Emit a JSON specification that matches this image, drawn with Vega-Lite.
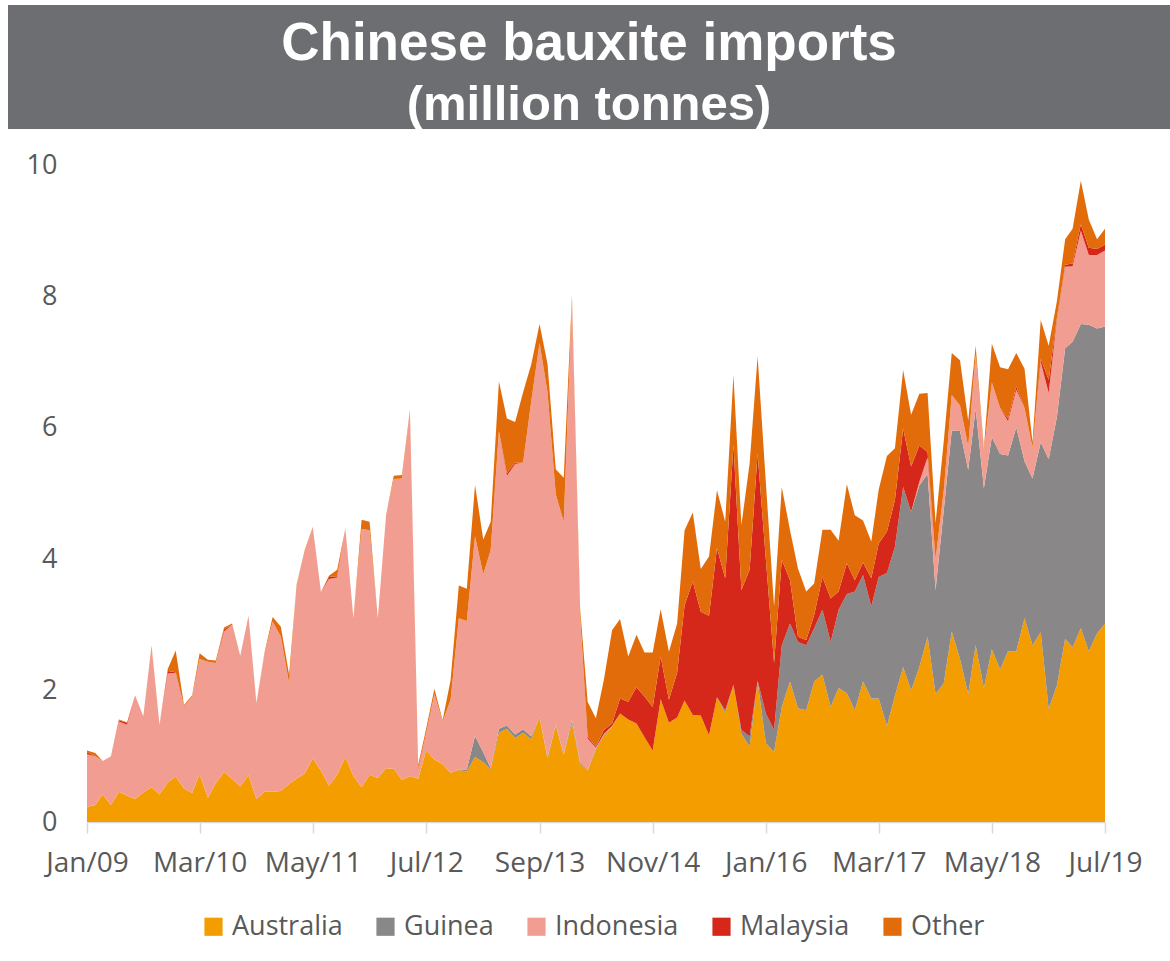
{
"$schema": "https://vega.github.io/schema/vega-lite/v6.json",
"padding": {"left": 8, "top": 5, "right": 0, "bottom": 15},
"background": "white",
"spacing": 36,
"bounds": "flush",
"config": {"view": {"stroke": null}, "font": "Open Sans"},
"vconcat": [
{
"width": 1162, "height": 124,
"view": {"fill": "#6d6e71", "stroke": null},
"data": {"values": [{"line": "a", "text": "Chinese bauxite imports"}, {"line": "b", "text": "(million tonnes)"}]},
"layer": [
{"transform": [{"filter": "datum.line == 'a'"}],
 "mark": {"type": "text", "font": "Liberation Sans", "fontWeight": "bold", "fontSize": 53, "color": "white", "baseline": "alphabetic", "dy": 22},
 "encoding": {"y": {"field": "line", "type": "ordinal", "axis": null, "scale": {"type": "point", "domain": ["a", "b"], "padding": 0.569}}, "text": {"field": "text"}}},
{"transform": [{"filter": "datum.line == 'b'"}],
 "mark": {"type": "text", "font": "Liberation Sans", "fontWeight": "bold", "fontSize": 49, "color": "white", "baseline": "alphabetic", "dy": 24},
 "encoding": {"y": {"field": "line", "type": "ordinal", "axis": null, "scale": {"type": "point", "domain": ["a", "b"], "padding": 0.569}}, "text": {"field": "text"}}}
]
},
{
"width": 1162, "height": 657,
"data": {"values": [
{"d":"2009-01-01","Australia":0.23,"Guinea":0,"Indonesia":0.80,"Malaysia":0.03,"Other":0.03},
{"d":"2009-02-01","Australia":0.26,"Guinea":0,"Indonesia":0.74,"Malaysia":0,"Other":0.05},
{"d":"2009-03-01","Australia":0.42,"Guinea":0,"Indonesia":0.51,"Malaysia":0,"Other":0},
{"d":"2009-04-01","Australia":0.26,"Guinea":0,"Indonesia":0.74,"Malaysia":0,"Other":0},
{"d":"2009-05-01","Australia":0.46,"Guinea":0,"Indonesia":1.07,"Malaysia":0.02,"Other":0.01},
{"d":"2009-06-01","Australia":0.40,"Guinea":0,"Indonesia":1.08,"Malaysia":0.03,"Other":0.01},
{"d":"2009-07-01","Australia":0.35,"Guinea":0,"Indonesia":1.58,"Malaysia":0,"Other":0},
{"d":"2009-08-01","Australia":0.45,"Guinea":0,"Indonesia":1.16,"Malaysia":0,"Other":0},
{"d":"2009-09-01","Australia":0.53,"Guinea":0,"Indonesia":2.16,"Malaysia":0,"Other":0},
{"d":"2009-10-01","Australia":0.42,"Guinea":0,"Indonesia":1.06,"Malaysia":0,"Other":0},
{"d":"2009-11-01","Australia":0.60,"Guinea":0,"Indonesia":1.66,"Malaysia":0.04,"Other":0.03},
{"d":"2009-12-01","Australia":0.69,"Guinea":0,"Indonesia":1.58,"Malaysia":0.01,"Other":0.33},
{"d":"2010-01-01","Australia":0.51,"Guinea":0,"Indonesia":1.25,"Malaysia":0,"Other":0.02},
{"d":"2010-02-01","Australia":0.44,"Guinea":0,"Indonesia":1.47,"Malaysia":0,"Other":0.02},
{"d":"2010-03-01","Australia":0.73,"Guinea":0,"Indonesia":1.75,"Malaysia":0,"Other":0.09},
{"d":"2010-04-01","Australia":0.37,"Guinea":0,"Indonesia":2.07,"Malaysia":0,"Other":0.03},
{"d":"2010-05-01","Australia":0.59,"Guinea":0,"Indonesia":1.83,"Malaysia":0,"Other":0.04},
{"d":"2010-06-01","Australia":0.76,"Guinea":0,"Indonesia":2.14,"Malaysia":0.03,"Other":0.03},
{"d":"2010-07-01","Australia":0.66,"Guinea":0,"Indonesia":2.34,"Malaysia":0,"Other":0.02},
{"d":"2010-08-01","Australia":0.54,"Guinea":0,"Indonesia":1.99,"Malaysia":0,"Other":0},
{"d":"2010-09-01","Australia":0.71,"Guinea":0,"Indonesia":2.43,"Malaysia":0,"Other":0},
{"d":"2010-10-01","Australia":0.35,"Guinea":0,"Indonesia":1.45,"Malaysia":0,"Other":0.01},
{"d":"2010-11-01","Australia":0.46,"Guinea":0,"Indonesia":2.11,"Malaysia":0,"Other":0.02},
{"d":"2010-12-01","Australia":0.46,"Guinea":0,"Indonesia":2.59,"Malaysia":0,"Other":0.07},
{"d":"2011-01-01","Australia":0.47,"Guinea":0,"Indonesia":2.35,"Malaysia":0,"Other":0.15},
{"d":"2011-02-01","Australia":0.58,"Guinea":0,"Indonesia":1.53,"Malaysia":0,"Other":0.13},
{"d":"2011-03-01","Australia":0.66,"Guinea":0,"Indonesia":2.94,"Malaysia":0,"Other":0.01},
{"d":"2011-04-01","Australia":0.74,"Guinea":0,"Indonesia":3.38,"Malaysia":0.01,"Other":0.01},
{"d":"2011-05-01","Australia":0.97,"Guinea":0,"Indonesia":3.51,"Malaysia":0,"Other":0.01},
{"d":"2011-06-01","Australia":0.78,"Guinea":0,"Indonesia":2.72,"Malaysia":0,"Other":0},
{"d":"2011-07-01","Australia":0.55,"Guinea":0,"Indonesia":3.15,"Malaysia":0.03,"Other":0.02},
{"d":"2011-08-01","Australia":0.72,"Guinea":0,"Indonesia":3.00,"Malaysia":0.02,"Other":0.10},
{"d":"2011-09-01","Australia":0.99,"Guinea":0,"Indonesia":3.48,"Malaysia":0,"Other":0},
{"d":"2011-10-01","Australia":0.70,"Guinea":0,"Indonesia":2.40,"Malaysia":0,"Other":0},
{"d":"2011-11-01","Australia":0.53,"Guinea":0,"Indonesia":3.93,"Malaysia":0,"Other":0.14},
{"d":"2011-12-01","Australia":0.72,"Guinea":0,"Indonesia":3.72,"Malaysia":0,"Other":0.13},
{"d":"2012-01-01","Australia":0.67,"Guinea":0,"Indonesia":2.43,"Malaysia":0,"Other":0},
{"d":"2012-02-01","Australia":0.82,"Guinea":0,"Indonesia":3.85,"Malaysia":0,"Other":0},
{"d":"2012-03-01","Australia":0.81,"Guinea":0,"Indonesia":4.41,"Malaysia":0,"Other":0.05},
{"d":"2012-04-01","Australia":0.64,"Guinea":0,"Indonesia":4.59,"Malaysia":0,"Other":0.05},
{"d":"2012-05-01","Australia":0.70,"Guinea":0,"Indonesia":5.56,"Malaysia":0,"Other":0.02},
{"d":"2012-06-01","Australia":0.66,"Guinea":0,"Indonesia":0.14,"Malaysia":0.02,"Other":0.05},
{"d":"2012-07-01","Australia":1.09,"Guinea":0,"Indonesia":0.26,"Malaysia":0,"Other":0.07},
{"d":"2012-08-01","Australia":0.95,"Guinea":0,"Indonesia":1.00,"Malaysia":0,"Other":0.08},
{"d":"2012-09-01","Australia":0.88,"Guinea":0,"Indonesia":0.65,"Malaysia":0,"Other":0.02},
{"d":"2012-10-01","Australia":0.75,"Guinea":0,"Indonesia":1.11,"Malaysia":0,"Other":0.30},
{"d":"2012-11-01","Australia":0.79,"Guinea":0.01,"Indonesia":2.30,"Malaysia":0,"Other":0.50},
{"d":"2012-12-01","Australia":0.77,"Guinea":0.03,"Indonesia":2.26,"Malaysia":0,"Other":0.49},
{"d":"2013-01-01","Australia":0.99,"Guinea":0.32,"Indonesia":3.04,"Malaysia":0,"Other":0.78},
{"d":"2013-02-01","Australia":0.91,"Guinea":0.15,"Indonesia":2.71,"Malaysia":0,"Other":0.53},
{"d":"2013-03-01","Australia":0.80,"Guinea":0.02,"Indonesia":3.32,"Malaysia":0,"Other":0.43},
{"d":"2013-04-01","Australia":1.36,"Guinea":0.06,"Indonesia":4.53,"Malaysia":0,"Other":0.76},
{"d":"2013-05-01","Australia":1.42,"Guinea":0.05,"Indonesia":3.80,"Malaysia":0.04,"Other":0.83},
{"d":"2013-06-01","Australia":1.28,"Guinea":0.05,"Indonesia":4.12,"Malaysia":0.02,"Other":0.62},
{"d":"2013-07-01","Australia":1.36,"Guinea":0.05,"Indonesia":4.06,"Malaysia":0,"Other":1.07},
{"d":"2013-08-01","Australia":1.26,"Guinea":0.04,"Indonesia":5.11,"Malaysia":0,"Other":0.56},
{"d":"2013-09-01","Australia":1.60,"Guinea":0,"Indonesia":5.69,"Malaysia":0,"Other":0.29},
{"d":"2013-10-01","Australia":0.96,"Guinea":0.02,"Indonesia":5.56,"Malaysia":0,"Other":0.43},
{"d":"2013-11-01","Australia":1.47,"Guinea":0.01,"Indonesia":3.51,"Malaysia":0,"Other":0.38},
{"d":"2013-12-01","Australia":1.02,"Guinea":0.01,"Indonesia":3.54,"Malaysia":0,"Other":0.67},
{"d":"2014-01-01","Australia":1.50,"Guinea":0.05,"Indonesia":6.38,"Malaysia":0,"Other":0.08},
{"d":"2014-02-01","Australia":0.88,"Guinea":0.02,"Indonesia":2.22,"Malaysia":0,"Other":0.11},
{"d":"2014-03-01","Australia":0.78,"Guinea":0.01,"Indonesia":0.48,"Malaysia":0.03,"Other":0.53},
{"d":"2014-04-01","Australia":1.10,"Guinea":0.02,"Indonesia":0.01,"Malaysia":0.02,"Other":0.43},
{"d":"2014-05-01","Australia":1.32,"Guinea":0.01,"Indonesia":0.01,"Malaysia":0.06,"Other":0.76},
{"d":"2014-06-01","Australia":1.45,"Guinea":0,"Indonesia":0.01,"Malaysia":0.04,"Other":1.42},
{"d":"2014-07-01","Australia":1.65,"Guinea":0,"Indonesia":0,"Malaysia":0.23,"Other":1.21},
{"d":"2014-08-01","Australia":1.56,"Guinea":0,"Indonesia":0,"Malaysia":0.27,"Other":0.69},
{"d":"2014-09-01","Australia":1.50,"Guinea":0,"Indonesia":0,"Malaysia":0.55,"Other":0.80},
{"d":"2014-10-01","Australia":1.29,"Guinea":0,"Indonesia":0,"Malaysia":0.62,"Other":0.67},
{"d":"2014-11-01","Australia":1.09,"Guinea":0,"Indonesia":0,"Malaysia":0.66,"Other":0.83},
{"d":"2014-12-01","Australia":1.87,"Guinea":0,"Indonesia":0,"Malaysia":0.65,"Other":0.72},
{"d":"2015-01-01","Australia":1.51,"Guinea":0,"Indonesia":0,"Malaysia":0.35,"Other":0.73},
{"d":"2015-02-01","Australia":1.59,"Guinea":0,"Indonesia":0,"Malaysia":0.68,"Other":0.75},
{"d":"2015-03-01","Australia":1.85,"Guinea":0,"Indonesia":0,"Malaysia":1.45,"Other":1.14},
{"d":"2015-04-01","Australia":1.63,"Guinea":0,"Indonesia":0,"Malaysia":2.03,"Other":1.05},
{"d":"2015-05-01","Australia":1.62,"Guinea":0,"Indonesia":0,"Malaysia":1.58,"Other":0.65},
{"d":"2015-06-01","Australia":1.32,"Guinea":0,"Indonesia":0,"Malaysia":1.82,"Other":0.90},
{"d":"2015-07-01","Australia":1.90,"Guinea":0,"Indonesia":0,"Malaysia":2.27,"Other":0.88},
{"d":"2015-08-01","Australia":1.66,"Guinea":0.04,"Indonesia":0,"Malaysia":2.01,"Other":0.86},
{"d":"2015-09-01","Australia":2.09,"Guinea":0,"Indonesia":0,"Malaysia":3.65,"Other":1.06},
{"d":"2015-10-01","Australia":1.34,"Guinea":0.06,"Indonesia":0,"Malaysia":2.13,"Other":0.99},
{"d":"2015-11-01","Australia":1.15,"Guinea":0.15,"Indonesia":0,"Malaysia":2.54,"Other":1.62},
{"d":"2015-12-01","Australia":2.14,"Guinea":0.01,"Indonesia":0,"Malaysia":3.46,"Other":1.48},
{"d":"2016-01-01","Australia":1.20,"Guinea":0.45,"Indonesia":0,"Malaysia":2.35,"Other":1.17},
{"d":"2016-02-01","Australia":1.07,"Guinea":0.33,"Indonesia":0,"Malaysia":1.02,"Other":0.86},
{"d":"2016-03-01","Australia":1.75,"Guinea":0.94,"Indonesia":0,"Malaysia":1.30,"Other":1.11},
{"d":"2016-04-01","Australia":2.14,"Guinea":0.88,"Indonesia":0,"Malaysia":0.66,"Other":0.76},
{"d":"2016-05-01","Australia":1.73,"Guinea":1.01,"Indonesia":0,"Malaysia":0.08,"Other":1.04},
{"d":"2016-06-01","Australia":1.70,"Guinea":0.99,"Indonesia":0,"Malaysia":0.08,"Other":0.74},
{"d":"2016-07-01","Australia":2.14,"Guinea":0.81,"Indonesia":0,"Malaysia":0.20,"Other":0.48},
{"d":"2016-08-01","Australia":2.24,"Guinea":0.99,"Indonesia":0,"Malaysia":0.50,"Other":0.72},
{"d":"2016-09-01","Australia":1.75,"Guinea":0.99,"Indonesia":0,"Malaysia":0.66,"Other":1.05},
{"d":"2016-10-01","Australia":2.04,"Guinea":1.19,"Indonesia":0,"Malaysia":0.28,"Other":0.77},
{"d":"2016-11-01","Australia":1.96,"Guinea":1.51,"Indonesia":0,"Malaysia":0.47,"Other":1.20},
{"d":"2016-12-01","Australia":1.70,"Guinea":1.81,"Indonesia":0,"Malaysia":0.17,"Other":0.99},
{"d":"2017-01-01","Australia":2.14,"Guinea":1.62,"Indonesia":0,"Malaysia":0.19,"Other":0.64},
{"d":"2017-02-01","Australia":1.88,"Guinea":1.40,"Indonesia":0,"Malaysia":0.43,"Other":0.56},
{"d":"2017-03-01","Australia":1.88,"Guinea":1.85,"Indonesia":0,"Malaysia":0.51,"Other":0.82},
{"d":"2017-04-01","Australia":1.46,"Guinea":2.33,"Indonesia":0,"Malaysia":0.63,"Other":1.15},
{"d":"2017-05-01","Australia":1.92,"Guinea":2.27,"Indonesia":0,"Malaysia":0.71,"Other":0.79},
{"d":"2017-06-01","Australia":2.36,"Guinea":2.74,"Indonesia":0,"Malaysia":0.89,"Other":0.89},
{"d":"2017-07-01","Australia":2.00,"Guinea":2.72,"Indonesia":0,"Malaysia":0.69,"Other":0.79},
{"d":"2017-08-01","Australia":2.36,"Guinea":2.76,"Indonesia":0.06,"Malaysia":0.55,"Other":0.79},
{"d":"2017-09-01","Australia":2.82,"Guinea":2.48,"Indonesia":0.25,"Malaysia":0.08,"Other":0.90},
{"d":"2017-10-01","Australia":1.95,"Guinea":1.58,"Indonesia":0.47,"Malaysia":0,"Other":0.55},
{"d":"2017-11-01","Australia":2.11,"Guinea":2.64,"Indonesia":0.30,"Malaysia":0,"Other":0.75},
{"d":"2017-12-01","Australia":2.90,"Guinea":3.06,"Indonesia":0.54,"Malaysia":0,"Other":0.64},
{"d":"2018-01-01","Australia":2.48,"Guinea":3.47,"Indonesia":0.39,"Malaysia":0,"Other":0.69},
{"d":"2018-02-01","Australia":1.95,"Guinea":3.41,"Indonesia":0.36,"Malaysia":0,"Other":0.39},
{"d":"2018-03-01","Australia":2.69,"Guinea":3.60,"Indonesia":0.83,"Malaysia":0,"Other":0.13},
{"d":"2018-04-01","Australia":2.04,"Guinea":3.04,"Indonesia":0.57,"Malaysia":0,"Other":0.04},
{"d":"2018-05-01","Australia":2.63,"Guinea":3.23,"Indonesia":0.83,"Malaysia":0,"Other":0.59},
{"d":"2018-06-01","Australia":2.32,"Guinea":3.28,"Indonesia":0.70,"Malaysia":0,"Other":0.62},
{"d":"2018-07-01","Australia":2.60,"Guinea":2.98,"Indonesia":0.52,"Malaysia":0.04,"Other":0.75},
{"d":"2018-08-01","Australia":2.60,"Guinea":3.41,"Indonesia":0.57,"Malaysia":0.05,"Other":0.51},
{"d":"2018-09-01","Australia":3.10,"Guinea":2.39,"Indonesia":0.81,"Malaysia":0,"Other":0.60},
{"d":"2018-10-01","Australia":2.69,"Guinea":2.54,"Indonesia":0.47,"Malaysia":0,"Other":0.08},
{"d":"2018-11-01","Australia":2.89,"Guinea":2.89,"Indonesia":1.22,"Malaysia":0.05,"Other":0.59},
{"d":"2018-12-01","Australia":1.72,"Guinea":3.80,"Indonesia":1.01,"Malaysia":0.20,"Other":0.52},
{"d":"2019-01-01","Australia":2.08,"Guinea":4.09,"Indonesia":1.48,"Malaysia":0.03,"Other":0.25},
{"d":"2019-02-01","Australia":2.79,"Guinea":4.42,"Indonesia":1.24,"Malaysia":0.03,"Other":0.39},
{"d":"2019-03-01","Australia":2.66,"Guinea":4.65,"Indonesia":1.15,"Malaysia":0.04,"Other":0.53},
{"d":"2019-04-01","Australia":2.95,"Guinea":4.63,"Indonesia":1.42,"Malaysia":0.10,"Other":0.66},
{"d":"2019-05-01","Australia":2.60,"Guinea":4.97,"Indonesia":1.06,"Malaysia":0.11,"Other":0.43},
{"d":"2019-06-01","Australia":2.87,"Guinea":4.64,"Indonesia":1.12,"Malaysia":0.09,"Other":0.15},
{"d":"2019-07-01","Australia":3.02,"Guinea":4.52,"Indonesia":1.16,"Malaysia":0.09,"Other":0.24}
]},
"transform": [{"fold": ["Australia", "Guinea", "Indonesia", "Malaysia", "Other"], "as": ["country", "value"]}],
"mark": {"type": "area", "interpolate": "linear"},
"encoding": {
"x": {"field": "d", "type": "temporal",
 "scale": {"type": "utc", "range": [79, 1097]},
 "axis": {"values": [
  {"year": 2009, "month": 1, "date": 1, "utc": true},
  {"year": 2010, "month": 3, "date": 1, "utc": true},
  {"year": 2011, "month": 5, "date": 1, "utc": true},
  {"year": 2012, "month": 7, "date": 1, "utc": true},
  {"year": 2013, "month": 9, "date": 1, "utc": true},
  {"year": 2014, "month": 11, "date": 1, "utc": true},
  {"year": 2016, "month": 1, "date": 1, "utc": true},
  {"year": 2017, "month": 3, "date": 1, "utc": true},
  {"year": 2018, "month": 5, "date": 1, "utc": true},
  {"year": 2019, "month": 7, "date": 1, "utc": true}],
  "format": "%b/%y", "title": null, "grid": false,
  "labelFont": "Open Sans", "labelFontSize": 28, "labelColor": "#595959",
  "domainColor": "#d9d9d9", "domainWidth": 1.5, "tickColor": "#d9d9d9", "tickWidth": 1.5, "tickSize": 11,
  "labelPadding": 16, "labelOverlap": false, "labelFlush": false}},
"y": {"field": "value", "type": "quantitative", "stack": "zero",
 "scale": {"domain": [0, 10], "nice": false},
 "axis": {"values": [0, 2, 4, 6, 8, 10], "offset": -79, "domain": false, "ticks": false, "tickSize": 0, "grid": false,
  "labelPadding": 30, "labelFont": "Open Sans", "labelFontSize": 27, "labelColor": "#595959", "title": null}},
"order": {"field": "country", "sort": "ascending"},
"color": {"field": "country", "type": "nominal",
 "scale": {"domain": ["Australia", "Guinea", "Indonesia", "Malaysia", "Other"], "range": ["#f49d00", "#898788", "#f29d91", "#d5281b", "#e36c0a"]},
 "legend": {"orient": "none", "legendX": 192, "legendY": 908, "direction": "horizontal", "title": null,
  "symbolType": "square", "symbolSize": 330, "symbolStrokeWidth": 0, "symbolOpacity": 1,
  "labelFont": "Open Sans", "labelFontSize": 27, "labelColor": "#595959", "labelOffset": 5, "columnPadding": 29}}
}
}
]
}
